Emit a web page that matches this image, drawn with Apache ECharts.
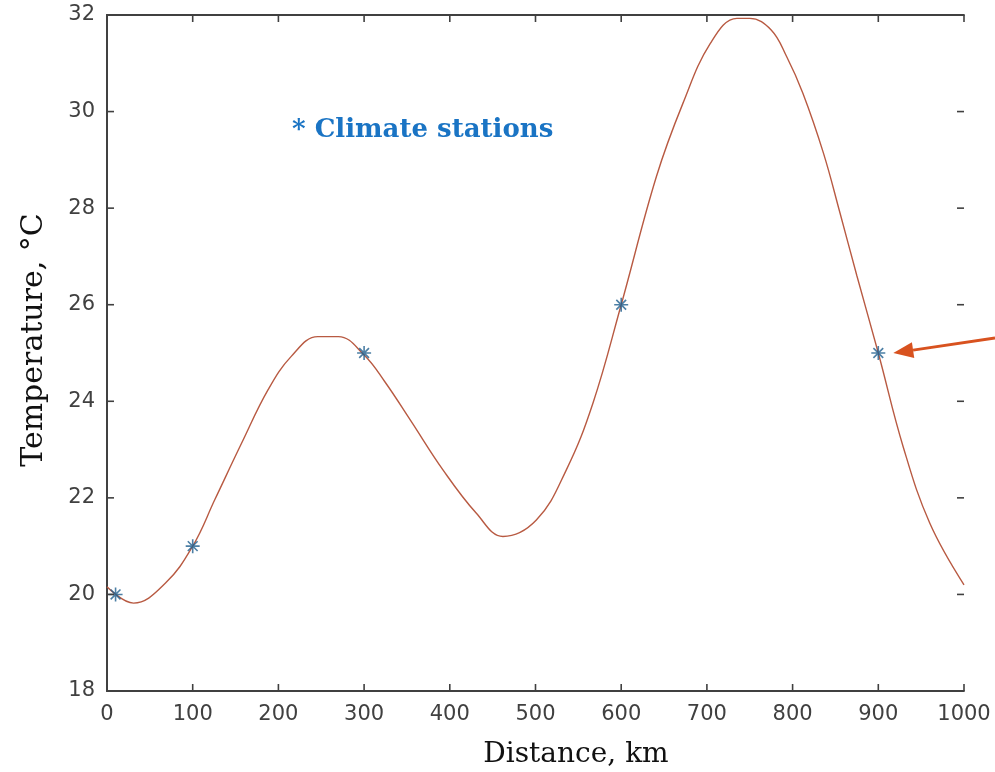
<!DOCTYPE html>
<html>
<head>
<meta charset="utf-8">
<script src="https://cdn.jsdelivr.net/npm/echarts@6/dist/echarts.min.js"></script>
<style>
  html, body { margin: 0; padding: 0; background: #ffffff; }
  #chart { width: 995px; height: 772px; }
</style>
</head>
<body>
<div id="chart"></div>
<script>
// Interpolated temperature profile along the transect (km, °C)
const profileDistance = [0, 31, 68, 100, 126, 157, 188, 215, 246, 270, 300, 324, 354, 392, 431, 462, 501, 536, 567, 600, 641, 672, 704, 735, 750, 775, 793, 812, 836, 855, 875, 900, 929, 960, 1000];
const profileTemp     = [20.16, 19.82, 20.23, 21.0, 21.97, 23.13, 24.24, 24.93, 25.34, 25.34, 24.96, 24.41, 23.61, 22.58, 21.68, 21.2, 21.54, 22.58, 23.96, 26.0, 28.65, 30.17, 31.41, 31.93, 31.93, 31.69, 31.14, 30.38, 29.14, 27.92, 26.6, 25.0, 23.06, 21.48, 20.2];

// Climate stations
const stationDistance = [10, 100, 300, 600, 900];
const stationTemp     = [20, 21, 25, 26, 25];

// Axis ranges / ticks
const xMin = 0, xMax = 1000, xStep = 100;
const yMin = 18, yMax = 32, yStep = 2;
const xTicks = [0, 100, 200, 300, 400, 500, 600, 700, 800, 900, 1000];
const yTicks = [18, 20, 22, 24, 26, 28, 30, 32];

const highlightedStation = 4; // index of the station the arrow points to

const chart = echarts.init(document.getElementById('chart'), null, { renderer: 'canvas' });

const axisColor = '#404040';
const tickLen = 7;
const tickFont = { fontFamily: 'DejaVu Sans', fontSize: 21, color: '#404040' };
const asterisk = 'path://M0,-10L0,10M-10,0L10,0M-7,-7L7,7M-7,7L7,-7';

const frameLine = { show: true, lineStyle: { color: axisColor, width: 1.8 } };

function frameAxis(kind, position, extra) {
  return Object.assign({
    type: 'value', position: position,
    min: kind === 'x' ? xMin : yMin, max: kind === 'x' ? xMax : yMax,
    interval: kind === 'x' ? xStep : yStep,
    axisLine: frameLine,
    axisTick: { show: false },
    axisLabel: { show: false },
    splitLine: { show: false }
  }, extra || {});
}

const option = {
  backgroundColor: '#ffffff',
  animation: false,
  grid: { left: 107, right: 31, top: 15, bottom: 81, containLabel: false, outerBoundsMode: 'none' },
  xAxis: [
    frameAxis('x', 'bottom', {
      name: 'Distance, km', nameLocation: 'middle', nameGap: 50,
      nameTextStyle: { fontFamily: 'DejaVu Serif', fontSize: 28, color: '#111111', padding: [0, 0, 0, 81] },
      axisLabel: Object.assign({ show: true, margin: 13, formatter: v => String(v) }, tickFont)
    }),
    frameAxis('x', 'top')
  ],
  yAxis: [
    frameAxis('y', 'left', {
      name: 'Temperature, °C', nameLocation: 'middle', nameGap: 58,
      nameTextStyle: { fontFamily: 'DejaVu Serif', fontSize: 30, color: '#111111', padding: [0, 0, 0, 26] },
      axisLabel: Object.assign({ show: true, margin: 12, formatter: v => String(v) }, tickFont)
    }),
    frameAxis('y', 'right')
  ],
  series: [
    {
      name: 'Profile',
      type: 'line',
      data: profileDistance.map((d, i) => [d, profileTemp[i]]),
      smooth: 0.4,
      showSymbol: false,
      lineStyle: { color: '#b85a42', width: 1.4 },
      z: 2
    },
    {
      name: 'Stations',
      type: 'scatter',
      data: stationDistance.map((d, i) => [d, stationTemp[i]]),
      symbol: asterisk,
      symbolSize: 14,
      itemStyle: { color: 'rgba(0,0,0,0)', borderColor: '#1f5f8f', borderWidth: 1.6 },
      z: 3
    }
  ]
};

chart.setOption(option);

const toPx = (x, y) => chart.convertToPixel({ seriesIndex: 0 }, [x, y]);

// Inward-pointing ticks on all four sides of the frame
const graphics = [];
function addTick(p, dx, dy) {
  graphics.push({
    type: 'line',
    shape: { x1: p[0], y1: p[1], x2: p[0] + dx * tickLen, y2: p[1] + dy * tickLen },
    style: { stroke: axisColor, lineWidth: 1.6 },
    z: 5
  });
}
xTicks.forEach(v => { addTick(toPx(v, yMin), 0, -1); addTick(toPx(v, yMax), 0, 1); });
yTicks.forEach(v => { addTick(toPx(xMin, v), 1, 0); addTick(toPx(xMax, v), -1, 0); });

// Legend note
graphics.push({
  type: 'text',
  left: 292, top: 117,
  style: { text: '* Climate stations', font: 'bold 26px "DejaVu Serif"', fill: '#1a74c4' }
});

// Arrow pointing at the highlighted station
const tip = toPx(stationDistance[highlightedStation], stationTemp[highlightedStation]);
const tipX = tip[0] + 15, tipY = tip[1];
const tailX = 995, tailY = tipY - 15;
const ang = Math.atan2(tailY - tipY, tailX - tipX);
const headLen = 20, headHalf = 8;
const bx = tipX + headLen * Math.cos(ang), by = tipY + headLen * Math.sin(ang);
const px = -Math.sin(ang) * headHalf, py = Math.cos(ang) * headHalf;

graphics.push({
  type: 'line',
  shape: { x1: tailX, y1: tailY, x2: bx, y2: by },
  style: { stroke: '#d8521f', lineWidth: 2.8 },
  z: 10
});
graphics.push({
  type: 'polygon',
  shape: { points: [[tipX, tipY], [bx + px, by + py], [bx - px, by - py]] },
  style: { fill: '#d8521f' },
  z: 10
});

chart.setOption({ graphic: graphics });
</script>
</body>
</html>
